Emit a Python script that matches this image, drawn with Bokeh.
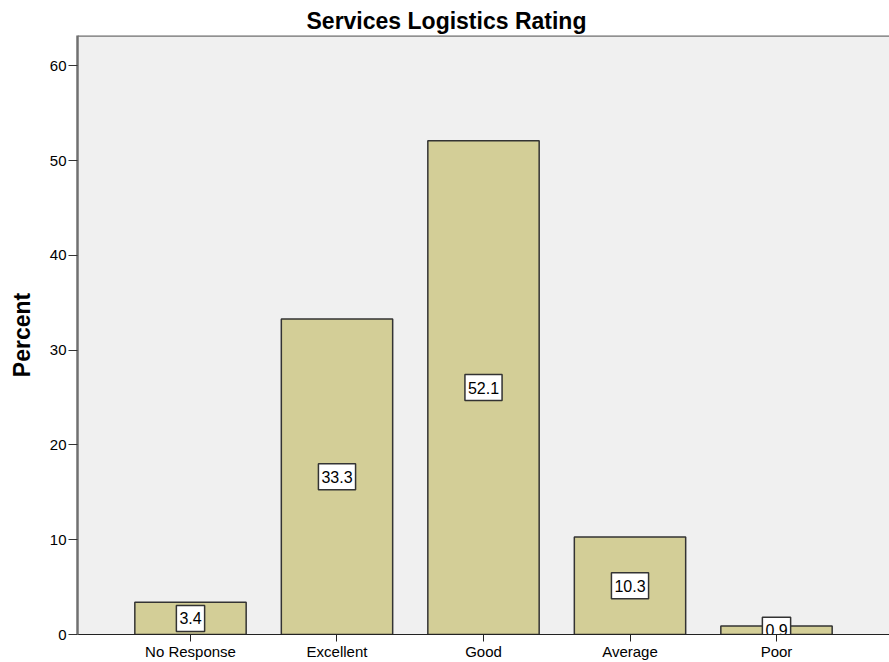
from bokeh.plotting import figure
from bokeh.models import ColumnDataSource, FactorRange, Range1d, FixedTicker, Span
from bokeh.core.properties import value
from bokeh.embed import file_html
from bokeh.resources import INLINE

categories = ["No Response", "Excellent", "Good", "Average", "Poor"]
percents = [3.4, 33.3, 52.1, 10.3, 0.9]
y_ticks = [0, 10, 20, 30, 40, 50, 60]
y_max = 63.2
title_text = "Services Logistics Rating"
y_label = "Percent"

src = ColumnDataSource(dict(
    cat=categories,
    pct=percents,
    mid=[v / 2 for v in percents],
    lbl=[f"{v:.1f}" for v in percents],
))

FONT = "Liberation Sans"

p = figure(
    x_range=FactorRange(factors=categories, range_padding=0.2713, range_padding_units="absolute"),
    y_range=Range1d(0, y_max),
    width=889, height=662,
    output_backend="svg", toolbar_location=None,
    min_border_left=77, min_border_right=0, min_border_top=35, min_border_bottom=27,
    background_fill_color="#F0F0F0", border_fill_color="white",
    outline_line_color=None,
)

p.vbar(x="cat", top="pct", width=0.76, source=src,
       fill_color="#D3CE97", line_color="#333333", line_width=1.5)

p.text(x="cat", y="mid", text="lbl", source=src,
       text_font=value(FONT), text_font_size="16px",
       text_align="center", text_baseline="middle", text_color="black",
       background_fill_color="white", border_line_color="#333333",
       border_line_width=1.5, padding=dict(left=3, right=3, top=7, bottom=7))

p.add_layout(Span(location=y_max, dimension="width", line_color="#707070", line_width=2.5))

p.xgrid.grid_line_color = None
p.ygrid.grid_line_color = None

xa = p.xaxis[0]
xa.axis_line_color = "#222222"
xa.axis_line_width = 1
xa.major_tick_out = 7
xa.major_tick_in = 0
xa.major_tick_line_color = "#222222"
xa.minor_tick_line_color = None
xa.major_label_text_font = FONT
xa.major_label_text_font_size = "15px"
xa.major_label_text_color = "black"
xa.major_label_standoff = 1

ya = p.yaxis[0]
ya.ticker = FixedTicker(ticks=y_ticks)
ya.axis_line_color = "#707070"
ya.axis_line_width = 2.5
ya.major_tick_out = 9
ya.major_tick_in = 0
ya.major_tick_line_color = "#333333"
ya.minor_tick_line_color = None
ya.major_label_text_font = FONT
ya.major_label_text_font_size = "15px"
ya.major_label_text_color = "black"
ya.major_label_standoff = 2
ya.axis_label = y_label
ya.axis_label_text_font = FONT
ya.axis_label_text_font_size = "23px"
ya.axis_label_text_font_style = "bold"
ya.axis_label_text_color = "black"
ya.axis_label_standoff = 12

p.title.text = title_text
p.title.align = "left"
p.title.text_font = FONT
p.title.text_font_size = "23px"
p.title.text_font_style = "bold"
p.title.text_color = "black"
p.title.offset = 229
p.title.standoff = 4

open("out.html", "w").write(file_html(p, INLINE))
